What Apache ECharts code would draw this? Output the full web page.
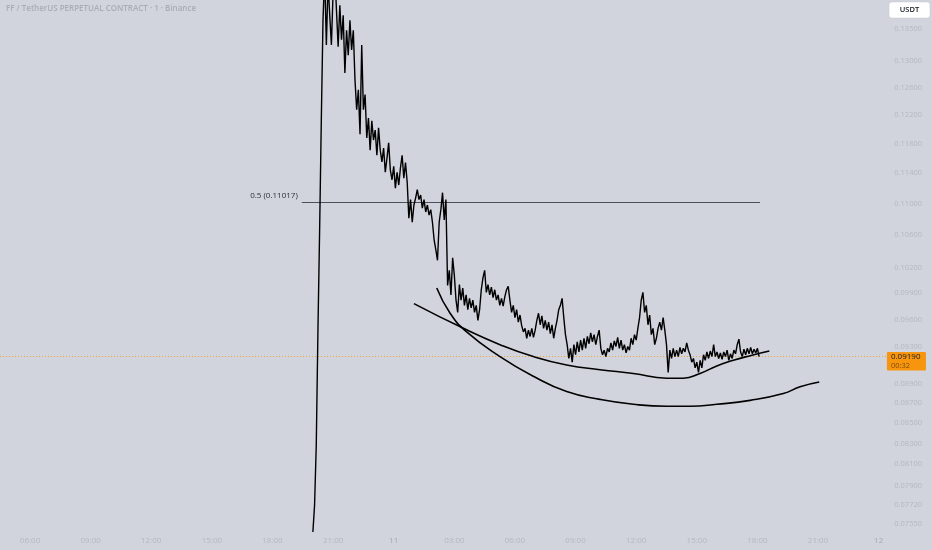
<!DOCTYPE html>
<html><head><meta charset="utf-8">
<script src="https://cdn.jsdelivr.net/npm/echarts@6/dist/echarts.min.js"></script>
<style>html,body{margin:0;padding:0;background:#d1d4dc}#c{width:932px;height:550px}</style>
</head><body><div id="c"></div>
<script>
const titleText = 'FF / TetherUS PERPETUAL CONTRACT · 1 · Binance';
const currencyText = 'USDT';
// price series: day 10 20:00, one sample every 5 minutes (hours since day 10 00:00)
const priceStartHour = 20;
const priceStepMin = 5;
const prices = [
0.0748,0.0772,0.0828,0.0948,0.1066,0.1213,0.1364,
0.1440,0.1325,0.1425,0.1372,0.1325,0.1410,0.1445,0.1380,0.1322,0.1388,0.1333,0.1372,0.1282,0.1348,0.1309,0.1364,0.1317,0.1348,
0.1272,0.1228,0.1257,0.1193,0.1325,0.1228,0.1250,0.1188,0.1216,0.1171,0.1212,0.1185,0.1199,0.1164,0.1202,0.1171,
0.1155,0.1174,0.1141,0.1160,0.1181,0.1144,0.1131,0.1149,0.1120,0.1141,0.1124,0.1147,0.1164,0.1133,0.1154,0.1128,0.1081,0.1105,0.1076,0.1098,
0.1107,0.1118,0.1105,0.1111,0.1094,0.1105,0.1089,0.1098,0.1085,0.1092,0.1076,0.1054,0.1042,0.1029,0.1076,0.1092,0.1114,0.1079,0.1105,0.0999,0.1017,0.0988,0.1032,0.1011,
0.0982,0.0968,0.1000,0.0982,0.0996,0.0976,0.0988,0.0971,0.0984,0.0973,0.0982,0.0968,0.0976,0.0959,0.0971,0.0994,0.1008,0.1017,0.0991,0.1000,0.0988,0.0997,0.0985,0.0994,
0.0982,0.0988,0.0976,0.0984,0.0975,0.0986,0.0994,0.0998,0.0982,0.0968,0.0976,0.0962,0.0971,0.0957,0.0965,0.0953,0.0946,0.0950,0.0939,0.0948,0.0941,0.0950,0.0940,0.0948,
0.0959,0.0967,0.0954,0.0964,0.0950,0.0959,0.0948,0.0957,0.0944,0.0954,0.0939,0.0950,0.0959,0.0971,0.0976,0.0984,0.0962,0.0943,0.0932,0.0917,0.0928,0.0913,0.0932,0.0921,
0.0935,0.0924,0.0937,0.0926,0.0939,0.0928,0.0941,0.0933,0.0945,0.0935,0.0943,0.0932,0.0941,0.0948,0.0928,0.0921,0.0926,0.0919,0.0928,0.0924,0.0934,0.0926,0.0936,0.0930,
0.0940,0.0928,0.0937,0.0926,0.0932,0.0923,0.0930,0.0926,0.0939,0.0932,0.0943,0.0937,0.0950,0.0962,0.0982,0.0991,0.0968,0.0976,0.0954,0.0965,0.0943,0.0950,0.0932,0.0939,
0.0950,0.0957,0.0948,0.0962,0.0948,0.0932,0.0902,0.0926,0.0917,0.0928,0.0919,0.0926,0.0919,0.0929,0.0922,0.0928,0.0924,0.0934,0.0926,0.0921,0.0913,0.0917,0.0907,0.0913,
0.0902,0.0915,0.0907,0.0921,0.0915,0.0924,0.0917,0.0925,0.0919,0.0932,0.0919,0.0924,0.0917,0.0923,0.0916,0.0924,0.0919,0.0926,0.0915,0.0922,0.0917,0.0926,0.0922,0.0932,0.0938,0.0924,0.0919,0.0927,0.0921,0.0928,0.0922,0.0929,0.0922,0.0927,0.0923,0.0928,0.0919
];
// hand-drawn curves: [hour, price]
const curveShallow = [[25.00,0.0978],[27.45,0.0950],[29.26,0.0932],[30.91,0.0919],[32.56,0.0910],[34.21,0.0905],[35.86,0.0901],[37.51,0.0896],[38.33,0.0896],[39.16,0.0901],[39.99,0.0909],[40.81,0.0915],[41.64,0.0920],[42.59,0.0925]];
const curveDeep = [[26.13,0.0996],[26.79,0.0967],[27.61,0.0946],[29.26,0.0919],[30.91,0.0898],[32.56,0.0882],[34.21,0.0874],[35.86,0.0869],[37.51,0.0867],[38.67,0.0867],[39.99,0.0869],[41.64,0.0873],[43.28,0.0880],[44.11,0.0887],[45.06,0.0892]];
// fib level
const fibLevel = 0.11017;
const fibLabel = '0.5 (0.11017)';
const fibStartHour = 19.45;
const fibEndHour = 42.13;
// last price
const lastPrice = 0.09190;
const lastPriceText = '0.09190';
const countdownText = '00:32';
const lastPriceLineEndHour = 48.41;
// axes
const xMin = 4.515, xMax = 50.64;
const xTicks = [6,9,12,15,18,21,24,27,30,33,36,39,42,45,48];
const xTickLabels = ['06:00','09:00','12:00','15:00','18:00','21:00','11','03:00','06:00','09:00','12:00','15:00','18:00','21:00','12'];
const yMin = 0.07445, yMax = 0.13967;
const yTicks = [0.135,0.13,0.126,0.122,0.118,0.114,0.11,0.106,0.102,0.099,0.096,0.093,0.089,0.087,0.085,0.083,0.081,0.079,0.0772,0.0755];

const chart = echarts.init(document.getElementById('c'), null, {renderer:'canvas'});
const FONT = '"Open Sans", "Noto Sans", sans-serif';
const priceData = prices.map((p,i)=>[priceStartHour + i*priceStepMin/60, p]);
const dayLabels = ['11','12'];
chart.setOption({
  animation:false,
  backgroundColor:'#d1d4dc',
  grid:{left:0,right:0,top:0,bottom:14,containLabel:false},
  xAxis:{type:'value',min:xMin,max:xMax,
    axisLine:{show:false},axisTick:{show:false},splitLine:{show:false},
    axisLabel:{customValues:xTicks,margin:1,fontSize:8,fontFamily:FONT,
      formatter:(v)=>{const k=xTicks.findIndex(t=>Math.abs(t-v)<1e-6);return k>=0?xTickLabels[k]:'';},
      color:(v)=>{const k=xTicks.findIndex(t=>Math.abs(t-v)<1e-6);return (k>=0&&dayLabels.includes(xTickLabels[k]))?'#a4a7b0':'#b4b7c0';}
    }},
  yAxis:{type:'log',logBase:10,min:yMin,max:yMax,position:'right',
    axisLine:{show:false},axisTick:{show:false},splitLine:{show:false},
    axisLabel:{inside:true,customValues:yTicks,margin:10,fontSize:7.5,fontFamily:FONT,color:'#b4b7c0',
      formatter:(v)=>Number(v).toFixed(5)}},
  series:[
    {type:'line',data:priceData,showSymbol:false,symbol:'none',
      lineStyle:{color:'#000',width:1.4},z:5,
      markLine:{silent:true,symbol:['none','none'],
        data:[
          [{coord:[xMin,lastPrice],lineStyle:{color:'#f1a43c',type:[1,2],width:1}},{coord:[lastPriceLineEndHour,lastPrice]}],
          [{coord:[fibStartHour,fibLevel],lineStyle:{color:'#2a2e39',type:'solid',width:0.8}},{coord:[fibEndHour,fibLevel]}]
        ],label:{show:false}}},
    {type:'line',data:curveShallow,smooth:0.5,showSymbol:false,symbol:'none',lineStyle:{color:'#000',width:1.6},z:6},
    {type:'line',data:curveDeep,smooth:0.5,showSymbol:false,symbol:'none',lineStyle:{color:'#000',width:1.6},z:6}
  ]
});
const fp = chart.convertToPixel({seriesIndex:0},[fibStartHour,fibLevel]);
const lp = chart.convertToPixel({seriesIndex:0},[lastPriceLineEndHour,lastPrice]);
chart.setOption({graphic:[
  {type:'text',left:6,top:5,style:{text:titleText,fill:'#a9acb5',font:'600 8px '+FONT}},
  {type:'rect',shape:{x:889,y:2,width:41,height:16,r:3},style:{fill:'#ffffff',stroke:'#c8cbd3',lineWidth:0.5}},
  {type:'text',x:909.5,y:10,style:{text:currencyText,fill:'#131722',font:'600 7.5px '+FONT,align:'center',verticalAlign:'middle'}},
  {type:'text',x:fp[0]-4,y:fp[1]-6,style:{text:fibLabel,fill:'#2a2e39',font:'8px '+FONT,align:'right',verticalAlign:'middle'}},
  {type:'rect',shape:{x:lp[0],y:lp[1]-4.5,width:39,height:18.5,r:1},style:{fill:'#f7960e'}},
  {type:'text',x:lp[0]+4,y:lp[1],style:{text:lastPriceText,fill:'#131722',font:'8px '+FONT,verticalAlign:'middle'}},
  {type:'text',x:lp[0]+4,y:lp[1]+9.5,style:{text:countdownText,fill:'#7b4c08',font:'7.5px '+FONT,verticalAlign:'middle'}}
]});
</script></body></html>
